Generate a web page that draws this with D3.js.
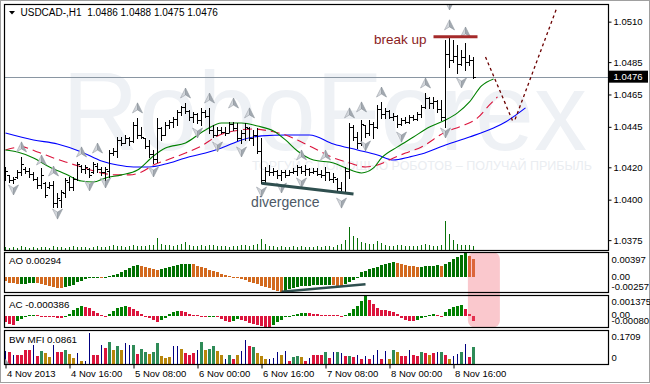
<!DOCTYPE html>
<html><head><meta charset="utf-8">
<script src="https://cdn.jsdelivr.net/npm/d3@7"></script>
<style>
html,body{margin:0;padding:0;background:#fff;}
svg{display:block;font-family:"Liberation Sans",Arial,sans-serif;}
</style></head><body>
<svg id="c" width="650" height="384"></svg>
<script>
// ---------------- DATA ----------------
const symbolTitle = "USDCAD-,H1  1.0486 1.0488 1.0475 1.0476";
const xTickIdx = [0,16,32,48,64,80,96,112];
const xTickLabels = ["4 Nov 2013","4 Nov 16:00","5 Nov 08:00","6 Nov 00:00","6 Nov 16:00","7 Nov 08:00","8 Nov 00:00","8 Nov 16:00"];
const priceTicks = [1.0510,1.0485,1.0465,1.0445,1.0420,1.0400,1.0375];
const lastPrice = 1.0476;

const high = [
1.04202,1.04153,1.0414,1.04183,1.04264,1.04202,1.04196,1.04171,1.0414,1.04196,
1.04109,1.04109,1.04115,1.04041,1.0406,1.04134,1.0414,1.0414,1.04233,1.04214,
1.04214,1.04196,1.04233,1.04227,1.04202,1.04202,1.04307,1.04319,1.04387,1.04387,
1.044,1.04387,1.0448,1.04505,1.04449,1.04381,1.04369,1.04307,1.04505,1.04449,
1.0448,1.04492,1.04511,1.04554,1.04579,1.04597,1.04554,1.04542,1.04536,1.04567,
1.04554,1.04567,1.04462,1.04449,1.04449,1.04449,1.0448,1.0448,1.04474,1.04431,
1.04474,1.04449,1.04431,1.04443,1.04381,1.04202,1.04214,1.04196,1.04183,1.04183,
1.04183,1.04183,1.04196,1.04214,1.0421,1.04214,1.04196,1.04196,1.04196,1.04183,
1.04202,1.04171,1.04165,1.04134,1.04109,1.04202,1.04474,1.04462,1.04418,1.04492,
1.04462,1.04492,1.0448,1.04585,1.04604,1.04567,1.04555,1.04536,1.04523,1.04505,
1.04511,1.04523,1.04523,1.04542,1.04585,1.04659,1.04635,1.04635,1.04616,1.04616,
1.04987,1.05005,1.04987,1.04956,1.04925,1.04968,1.04894,1.0488];
const low = [
1.04122,1.04109,1.04103,1.04134,1.04153,1.04165,1.0414,1.04122,1.04072,1.04072,
1.04017,1.04072,1.03955,1.03955,1.03955,1.04017,1.0406,1.0406,1.04122,1.04171,
1.04165,1.0414,1.04165,1.04171,1.04153,1.04122,1.0414,1.04276,1.04264,1.04338,
1.0435,1.04338,1.04356,1.04381,1.04381,1.04319,1.04264,1.04227,1.04233,1.04369,
1.044,1.04443,1.04449,1.04462,1.04523,1.04536,1.04492,1.0448,1.04474,1.04462,
1.04511,1.04412,1.04387,1.044,1.04412,1.044,1.04418,1.04431,1.04369,1.0435,
1.04369,1.04369,1.04338,1.04288,1.04103,1.04109,1.04153,1.04153,1.04134,1.04122,
1.0414,1.04153,1.04165,1.04153,1.04165,1.04153,1.04153,1.04165,1.04153,1.0414,
1.04122,1.04122,1.04109,1.0406,1.04041,1.04047,1.04134,1.04369,1.04319,1.0434,
1.04387,1.044,1.04381,1.0444,1.04505,1.04505,1.04505,1.04492,1.04449,1.04462,
1.04474,1.04474,1.04492,1.04492,1.04511,1.04567,1.04567,1.04567,1.04542,1.04492,
1.04449,1.0482,1.04851,1.04783,1.04832,1.04801,1.04832,1.0475];
const open = [
1.0414,1.0415,1.0412,1.0414,1.0417,1.0419,1.0418,1.0416,1.0413,1.0409,
1.041,1.0408,1.0409,1.0398,1.04,1.0404,1.0411,1.0408,1.0413,1.0421,
1.0419,1.0419,1.0417,1.0421,1.0419,1.0417,1.0418,1.0429,1.043,1.0437,
1.0435,1.0438,1.0436,1.0446,1.044,1.0438,1.0433,1.0428,1.0425,1.0444,
1.044,1.0446,1.0448,1.045,1.0454,1.0457,1.0455,1.0451,1.0453,1.0449,
1.0454,1.0452,1.0443,1.044,1.0443,1.0442,1.0441,1.0447,1.0444,1.0438,
1.0441,1.0444,1.0438,1.044,1.043,1.0412,1.0418,1.0417,1.0418,1.0415,
1.0417,1.04155,1.0417,1.0418,1.042,1.0418,1.0419,1.0417,1.0418,1.0416,
1.0415,1.0417,1.0413,1.0413,1.0407,1.0405,1.0418,1.0445,1.0439,1.0435,
1.0446,1.0441,1.0447,1.0445,1.0456,1.0453,1.0455,1.0451,1.0452,1.0447,
1.0449,1.0448,1.0451,1.045,1.0453,1.0457,1.0463,1.046,1.0461,1.0456,
1.0451,1.049,1.0486,1.0489,1.0484,1.0488,1.0485,1.0486];
const close = [
1.0418,1.0412,1.0413,1.0417,1.0422,1.0418,1.0416,1.0413,1.0409,1.0415,
1.0403,1.0409,1.0398,1.0401,1.0405,1.0412,1.0408,1.0413,1.0422,1.0419,
1.042,1.0415,1.0422,1.0419,1.0417,1.0419,1.0429,1.043,1.0437,1.0435,
1.0438,1.0436,1.0446,1.044,1.0439,1.0433,1.0428,1.0425,1.0444,1.044,
1.0446,1.0448,1.045,1.0454,1.0457,1.0455,1.0451,1.0453,1.0449,1.0454,
1.0452,1.0443,1.044,1.0443,1.0442,1.0441,1.0447,1.0444,1.0438,1.0441,
1.0445,1.0438,1.044,1.043,1.0412,1.0418,1.0417,1.0418,1.0415,1.0417,
1.0415,1.0417,1.0418,1.042,1.0418,1.0419,1.0417,1.0418,1.0416,1.0415,
1.0417,1.0413,1.0414,1.0407,1.0405,1.0418,1.0445,1.0439,1.0435,1.0447,
1.0441,1.0447,1.0445,1.0456,1.0453,1.0455,1.0451,1.0452,1.0447,1.0449,
1.0448,1.0451,1.045,1.0453,1.0457,1.0463,1.046,1.0461,1.0456,1.0451,
1.049,1.0486,1.0489,1.0484,1.0488,1.0485,1.0486,1.0476];
const volume = [
300,200,300,200,400,300,200,300,200,300, 300,200,400,300,300,200,300,400,300,300,
300,200,300,400,300,300,400,500,400,400, 300,400,500,400,400,400,500,500,1200,600,
500,500,400,500,600,800,500,400,400,500, 400,500,500,400,400,400,300,400,400,500,
500,400,500,600,1100,600,400,400,300,400, 300,300,400,300,400,300,300,300,400,300,
400,400,300,500,600,1000,2300,1400,1200,800, 700,600,600,900,700,500,400,400,500,500,
400,400,400,400,500,600,500,400,400,500, 2900,1600,1000,600,500,500,500,400];

// Alligator (shifted lines), read as [bar index, price]
const jaw = [[0,1.04412],[7,1.04369],[13,1.04344],[19,1.04295],[24,1.04239],[28,1.04214],[32,1.04202],[36,1.04202],[40,1.0422],[45,1.04258],[50,1.04288],[54,1.04319],[59,1.04369],[64,1.04394],[70,1.044],[76,1.044],[82,1.04344],[88,1.04307],[93,1.04276],[97,1.04245],[101,1.04264],[104,1.04282],[110,1.04338],[116,1.04387],[122,1.04443],[125,1.0448],[130,1.04567]];
const teeth = [[0,1.04307],[4,1.04326],[8,1.04295],[12,1.04258],[15,1.04233],[19,1.04202],[24,1.04165],[28,1.04153],[31,1.04153],[34,1.04171],[37,1.04214],[41,1.04251],[45,1.04288],[49,1.04332],[53,1.04394],[57,1.04424],[62,1.04437],[66,1.04424],[70,1.044],[74,1.04356],[78,1.04307],[82,1.04258],[86,1.04227],[90,1.04202],[93,1.04214],[97,1.04258],[100,1.04288],[104,1.04326],[110,1.04418],[114,1.04455],[118,1.04505],[121,1.04585],[123,1.04635]];
const lips = [[0,1.04307],[3,1.04295],[7,1.04258],[11,1.04202],[15,1.04159],[19,1.04115],[22,1.04109],[25,1.04134],[29,1.04153],[33,1.04183],[37,1.0427],[40,1.04319],[45,1.0435],[50,1.04431],[54,1.04474],[59,1.04474],[63,1.04455],[67,1.04424],[70,1.04369],[73,1.04301],[77,1.04245],[82,1.04227],[85,1.04196],[89,1.04165],[92,1.04196],[94,1.04258],[98,1.04326],[102,1.04387],[106,1.04449],[110,1.04492],[113,1.04536],[116,1.04604],[119,1.04703],[122,1.04746]];

// Fractal markers [bar index, price of marker]
const fractalUp = [[4,1.04326],[9,1.04245],[12,1.04177],[19,1.04295],[23,1.04319],[33,1.04567],[45,1.04659],[51,1.04628],[57,1.04597],[61,1.04536],[74,1.04276],[80,1.04276],[86,1.04536],[89,1.04573],[94,1.04665],[105,1.04721],[111,1.0508],[115,1.05036]];
const fractalDown = [[2,1.0406],[13,1.03911],[21,1.04085],[25,1.04103],[37,1.04171],[48,1.04412],[53,1.04326],[59,1.04295],[64,1.04047],[69,1.04072],[74,1.04103],[84,1.03979],[90,1.04332],[99,1.04387],[110,1.04412],[114,1.04721],[111,1.05203]];

// Indicators
const ao = [-0.00072,-0.00100,-0.00111,-0.00122,-0.00120,-0.00117,-0.00111,-0.00100,-0.00111,-0.00128,
-0.00145,-0.00162,-0.00173,-0.00184,-0.00190,-0.00179,-0.00156,-0.00134,-0.00095,-0.00067,
-0.00044,-0.00028,-0.00016,-0.00008,-0.00012,0.00002,0.00010,0.00029,0.00051,0.00084,
0.00118,0.00151,0.00179,0.00196,0.00185,0.00168,0.00146,0.00129,0.00112,0.00129,
0.00146,0.00168,0.00185,0.00196,0.00205,0.00210,0.00213,0.00207,0.00185,0.00163,
0.00140,0.00118,0.00096,0.00073,0.00051,0.00034,0.00017,-0.00005,-0.00022,-0.00039,
-0.00061,-0.00084,-0.00106,-0.00128,-0.00151,-0.00173,-0.00195,-0.00218,-0.00240,-0.00257,
-0.00234,-0.00210,-0.00190,-0.00175,-0.00162,-0.00155,-0.00150,-0.00145,-0.00141,-0.00139,
-0.00136,-0.00134,-0.00145,-0.00156,-0.00162,-0.00128,-0.00095,-0.00061,-0.00011,0.00073,
0.00096,0.00123,0.00146,0.00168,0.00190,0.00207,0.00224,0.00241,0.00235,0.00218,
0.00202,0.00185,0.00174,0.00163,0.00168,0.00174,0.00179,0.00185,0.00190,0.00179,
0.00207,0.00250,0.00290,0.00330,0.00365,0.00397,0.00345,0.00294];
const ac = [-0.00045,-0.00055,-0.00060,-0.00037,-0.00019,-0.00005,0.00003,0.00008,0.00003,-0.00002,
-0.00006,-0.00008,-0.00010,-0.00014,-0.00017,-0.00005,0.00012,0.00036,0.00054,0.00065,
0.00060,0.00050,0.00035,0.00018,0.00005,-0.00002,0.00015,0.00035,0.00050,0.00062,
0.00068,0.00062,0.00048,0.00030,0.00015,0.00000,-0.00015,-0.00030,-0.00040,-0.00030,
-0.00015,0.00010,0.00025,0.00034,0.00030,0.00022,0.00015,0.00008,0.00002,-0.00003,
-0.00005,-0.00002,0.00000,-0.00010,-0.00025,-0.00038,-0.00045,-0.00035,-0.00025,-0.00028,
-0.00038,-0.00048,-0.00058,-0.00066,-0.00072,-0.00077,-0.00080,-0.00062,-0.00045,-0.00028,
-0.00012,0.00000,0.00008,0.00012,0.00016,0.00020,0.00016,0.00012,0.00010,0.00008,
0.00007,0.00006,0.00005,0.00004,-0.00002,0.00005,0.00020,0.00043,0.00065,0.00099,
0.001375,0.00105,0.00080,0.00055,0.00040,0.00036,0.00030,0.00025,0.00010,-0.00014,
-0.00026,-0.00033,-0.00034,-0.00030,-0.00018,-0.00005,0.00005,0.00010,0.00008,0.00000,
0.00025,0.00045,0.00062,0.00068,0.00070,0.00049,0.00015,-0.000386];
const mfi = [0.067,0.060,0.045,0.045,0.045,0.073,0.073,0.100,0.040,0.067,
0.055,0.036,0.100,0.064,0.064,0.073,0.051,0.031,0.058,0.018,
0.018,0.158,0.047,0.047,0.100,0.082,0.113,0.073,0.095,0.073,
0.109,0.100,0.100,0.051,0.078,0.064,0.051,0.060,0.109,0.040,
0.033,0.036,0.091,0.095,0.076,0.055,0.049,0.055,0.073,0.114,
0.073,0.078,0.095,0.067,0.049,0.027,0.049,0.027,0.045,0.067,
0.122,0.091,0.086,0.058,0.040,0.027,0.024,0.033,0.064,0.049,
0.067,0.013,0.036,0.040,0.036,0.018,0.031,0.045,0.045,0.045,
0.064,0.031,0.060,0.064,0.055,0.040,0.040,0.036,0.045,0.027,
0.040,0.027,0.045,0.073,0.027,0.067,0.027,0.073,0.060,0.040,
0.040,0.073,0.045,0.040,0.060,0.055,0.045,0.055,0.060,0.060,
0.045,0.027,0.040,0.050,0.064,0.105,0.036,0.0861];
// MFI colour codes: g=green (up/up), r=squat, y=fade, b=fake
const mfiType = "brbrrrrbrgyybrrgyybybbrrbrgygybbgrggyggyyybbyrrrbgyggyybgrybbrgyyybbbybrggyrbrrrgrbgbrgrbrbrbbrbygyrrbrrgryrbgrybbgbrg";

const aoTicks = [0.00397, 0, -0.00257];
const aoTickLabels = ["0.00397","0.00","-0.00257"];
const acTicks = [0.001375, 0, -0.0008];
const acTickLabels = ["0.001375","0.00","-0.00080"];
const mfiTicks = [0.1709, 0];
const mfiTickLabels = ["0.1709","0"];

// annotations
const breakUp = [[107,1.05007],[118,1.05007]];
const breakUpLabel = [92.1,1.04962,"break up"];
const divergenceMain = [[64,1.04101],[87,1.04035]];
const divergenceLabel = [61.4,1.03955,"divergence"];
const divergenceAO = [[69,-0.00253],[90,-0.00129]];
const forecast1 = [[120,1.04882],[127,1.04474]];
const forecast2 = [[127.4,1.04496],[137.8,1.05183]];
const highlightBars = [115.6,123.6];

// ---------------- DRAW ----------------
const svg = d3.select('#c');
const L = 4.5, R = 608.5;
const P = {main:[4.5,250.5], ao:[252.5,292.5], ac:[295.5,327.5], mfi:[330.5,364.5]};

const x = d3.scaleLinear().domain([0,1]).range([5.5,9.5]);
const yM = d3.scaleLinear().domain([1.03689,1.05209]).range([250,4]);
const yV = d3.scaleLinear().domain([0,3000]).range([250,220]);
const yAO = d3.scaleLinear().domain([-0.00257,0.00397]).range([292,253]);
const yAC = d3.scaleLinear().domain([-0.0008,0.001375]).range([327.5,295.5]);
const yMF = d3.scaleLinear().domain([0,0.1709]).range([364,331]);

svg.append('rect').attr('width',650).attr('height',384).attr('fill','#fff');
svg.append('rect').attr('x',0.5).attr('y',0.5).attr('width',649).attr('height',382)
  .attr('fill','none').attr('stroke','#a0a0a0');

const defs = svg.append('defs');
defs.append('clipPath').attr('id','clipMain').append('rect')
  .attr('x',L).attr('y',P.main[0]).attr('width',R-L).attr('height',P.main[1]-P.main[0]);

const gm = svg.append('g').attr('clip-path','url(#clipMain)');

// watermark
gm.append('text').attr('x',62).attr('y',150).attr('font-size',112)
  .attr('textLength',525).attr('lengthAdjust','spacingAndGlyphs')
  .attr('fill','#eef1f5').text('RoboForex');
gm.append('text').attr('x',592).attr('y',170).attr('font-size',12.5).attr('text-anchor','end')
  .attr('fill','#eaedf1').text('ТОРГУЙ С ПОМОЩЬЮ РОБОТОВ – ПОЛУЧАЙ ПРИБЫЛЬ');

// last price line
gm.append('line').attr('x1',L).attr('x2',R)
  .attr('y1',Math.round(yM(lastPrice))+0.5).attr('y2',Math.round(yM(lastPrice))+0.5)
  .attr('stroke','#8a96a2').attr('stroke-width',1);

// volumes
let vp = '';
volume.forEach((v,i)=>{ vp += `M${x(i)},250V${Math.round(yV(v))}`; });
gm.append('path').attr('d',vp).attr('stroke','#087008').attr('stroke-width',1).attr('fill','none');

// alligator
const lineGen = d3.line().x(d=>x(d[0])).y(d=>yM(d[1])).curve(d3.curveMonotoneX);
gm.append('path').attr('d',lineGen(jaw)).attr('stroke','#0000ff').attr('fill','none').attr('stroke-width',1.1);
gm.append('path').attr('d',lineGen(teeth)).attr('stroke','#dc143c').attr('fill','none').attr('stroke-width',1.1).attr('stroke-dasharray','9,5');
gm.append('path').attr('d',lineGen(lips)).attr('stroke','#008000').attr('fill','none').attr('stroke-width',1.1);

// OHLC bars
let bp = '';
high.forEach((h,i)=>{
  const xi = x(i);
  const yo = Math.round(yM(open[i]))+0.5, yc = Math.round(yM(close[i]))+0.5;
  bp += `M${xi},${Math.round(yM(h))}V${Math.round(yM(low[i]))+1}`;
  bp += `M${xi-2.5},${yo}H${xi}`;
  bp += `M${xi},${yc}H${xi+2.5}`;
});
gm.append('path').attr('d',bp).attr('stroke','#000').attr('stroke-width',1).attr('fill','none');

// fractal arrows
function arrow(g, cx, cy, up){
  const s = up ? 1 : -1;
  const a = g.append('g').attr('transform',`translate(${cx},${cy})`);
  a.append('path').attr('d',`M0,${-5*s}L0,${2*s}L-5,${5*s}Z`).attr('fill','#d3d7dc').attr('stroke','#9aa0a8').attr('stroke-width',0.6);
  a.append('path').attr('d',`M0,${-5*s}L5,${5*s}L0,${2*s}Z`).attr('fill','#a3a9b1').attr('stroke','#8c939b').attr('stroke-width',0.6);
}
fractalUp.forEach(d=>arrow(gm, x(d[0]), yM(d[1]), true));
fractalDown.forEach(d=>arrow(gm, x(d[0]), yM(d[1]), false));

// annotations main
const lineXY = d3.line().x(d=>x(d[0])).y(d=>yM(d[1]));
gm.append('path').attr('d',lineXY(divergenceMain)).attr('stroke','#2f4f4f').attr('stroke-width',3).attr('fill','none');
gm.append('path').attr('d',lineXY(breakUp)).attr('stroke','#a52a2a').attr('stroke-width',3).attr('fill','none');
gm.append('path').attr('d',lineXY(forecast1)).attr('stroke','#6b0000').attr('stroke-width',1.3).attr('stroke-dasharray','3,3').attr('fill','none');
gm.append('path').attr('d',lineXY(forecast2)).attr('stroke','#6b0000').attr('stroke-width',1.3).attr('stroke-dasharray','3,3').attr('fill','none');
gm.append('text').attr('x',x(breakUpLabel[0])).attr('y',yM(breakUpLabel[1])).attr('font-size',13.5)
  .attr('fill','#8b1c1c').text(breakUpLabel[2]);
gm.append('text').attr('x',x(divergenceLabel[0])).attr('y',yM(divergenceLabel[1])).attr('font-size',14)
  .attr('fill','#4d5966').text(divergenceLabel[2]);

// title
svg.append('path').attr('d','M9,11L15,11L12,14.5Z').attr('fill','#000');
svg.append('text').attr('x',20.5).attr('y',16).attr('font-size',10).attr('fill','#000')
  .style('white-space','pre').text(symbolTitle);

// ---- AO ----
const z0ao = Math.round(yAO(0));
const gao = svg.append('g');
ao.forEach((v,i)=>{
  const yv = Math.round(yAO(v));
  const up = i>0 && v>ao[i-1];
  gao.append('rect').attr('x',x(i)-1.5).attr('width',3)
    .attr('y',Math.min(yv,z0ao)).attr('height',Math.max(1,Math.abs(yv-z0ao)))
    .attr('fill', up ? '#007000' : '#d2691e');
});
gao.append('path').attr('d',d3.line().x(d=>x(d[0])).y(d=>yAO(d[1]))(divergenceAO))
  .attr('stroke','#2f4f4f').attr('stroke-width',2.5).attr('fill','none');

// ---- AC ----
const z0ac = Math.round(yAC(0));
ac.forEach((v,i)=>{
  const yv = Math.round(yAC(v));
  const up = i>0 && v>ac[i-1];
  svg.append('rect').attr('x',x(i)-1.5).attr('width',3)
    .attr('y',Math.min(yv,z0ac)).attr('height',Math.max(1,Math.abs(yv-z0ac)))
    .attr('fill', up ? '#008000' : '#dc143c');
});

// ---- BW MFI ----
const mfiCol = {g:'#2e8b57', r:'#dc143c', y:'#b8860b', b:'#000080'};
const z0mf = Math.round(yMF(0));
mfi.forEach((v,i)=>{
  const t = mfiType[i];
  const yv = Math.round(yMF(v));
  if(t==='b'){
    svg.append('line').attr('x1',x(i)).attr('x2',x(i)).attr('y1',z0mf).attr('y2',yv)
      .attr('stroke',mfiCol.b).attr('stroke-width',1);
  } else {
    svg.append('rect').attr('x',x(i)-1.5).attr('width',3).attr('y',yv).attr('height',z0mf-yv)
      .attr('fill',mfiCol[t]);
  }
});
svg.append('path').attr('d','M4.5,364L9.5,364L4.5,358Z').attr('fill','#9aa0a8');

// panel labels
svg.append('text').attr('x',9).attr('y',264).attr('font-size',9.8).text('AO 0.00294');
svg.append('text').attr('x',9).attr('y',308).attr('font-size',9.8).text('AC -0.000386');
svg.append('text').attr('x',9).attr('y',342.5).attr('font-size',9.8).text('BW MFI 0.0861');

// highlight box
svg.append('rect').attr('x',x(highlightBars[0])).attr('width',x(highlightBars[1])-x(highlightBars[0]))
  .attr('y',252).attr('height',75.5).attr('rx',7).attr('fill','#f06070').attr('opacity',0.35);

// panel borders
Object.values(P).forEach(p=>{
  svg.append('rect').attr('x',L).attr('y',p[0]).attr('width',R-L).attr('height',p[1]-p[0])
    .attr('fill','none').attr('stroke','#000').attr('stroke-width',1.2);
});

// main price axis
const ax = svg.append('g').attr('transform',`translate(${R},0)`)
  .call(d3.axisRight(yM).tickValues(priceTicks).tickFormat(d3.format('.4f')).tickSize(3).tickPadding(2));
ax.select('.domain').remove();
ax.selectAll('text').attr('font-size',9.5).attr('font-family','"Liberation Sans",Arial,sans-serif').attr('fill','#000');
ax.selectAll('line').attr('stroke','#000');

// last price box
const yl = yM(lastPrice);
svg.append('rect').attr('x',609).attr('y',yl-6).attr('width',39).attr('height',12).attr('fill','#000');
svg.append('text').attr('x',613.5).attr('y',yl).attr('dy','0.34em').attr('font-size',9.5).attr('fill','#fff')
  .text(d3.format('.4f')(lastPrice));

// sub-panel scale labels
function subLabels(scale, ticks, labels, offs){
  ticks.forEach((t,i)=>{
    svg.append('text').attr('x',611.5).attr('y',scale(t)+offs[i]).attr('dy','0.34em')
      .attr('font-size',9.5).text(labels[i]);
  });
}
subLabels(yAO, aoTicks, aoTickLabels, [7,0,-5]);
subLabels(yAC, acTicks, acTickLabels, [6.5,-1,-6.5]);
subLabels(yMF, mfiTicks, mfiTickLabels, [6,-6.5]);

// time axis
const xa = svg.append('g').attr('transform',`translate(0,${P.mfi[1]})`)
  .call(d3.axisBottom(x).tickValues(xTickIdx).tickFormat((d,i)=>xTickLabels[i]).tickSize(4).tickPadding(2));
xa.select('.domain').remove();
xa.selectAll('text').attr('text-anchor','start').attr('dx','1').attr('font-size',9.5)
  .attr('font-family','"Liberation Sans",Arial,sans-serif').attr('fill','#000');
xa.selectAll('line').attr('stroke','#000');
</script>
</body></html>
